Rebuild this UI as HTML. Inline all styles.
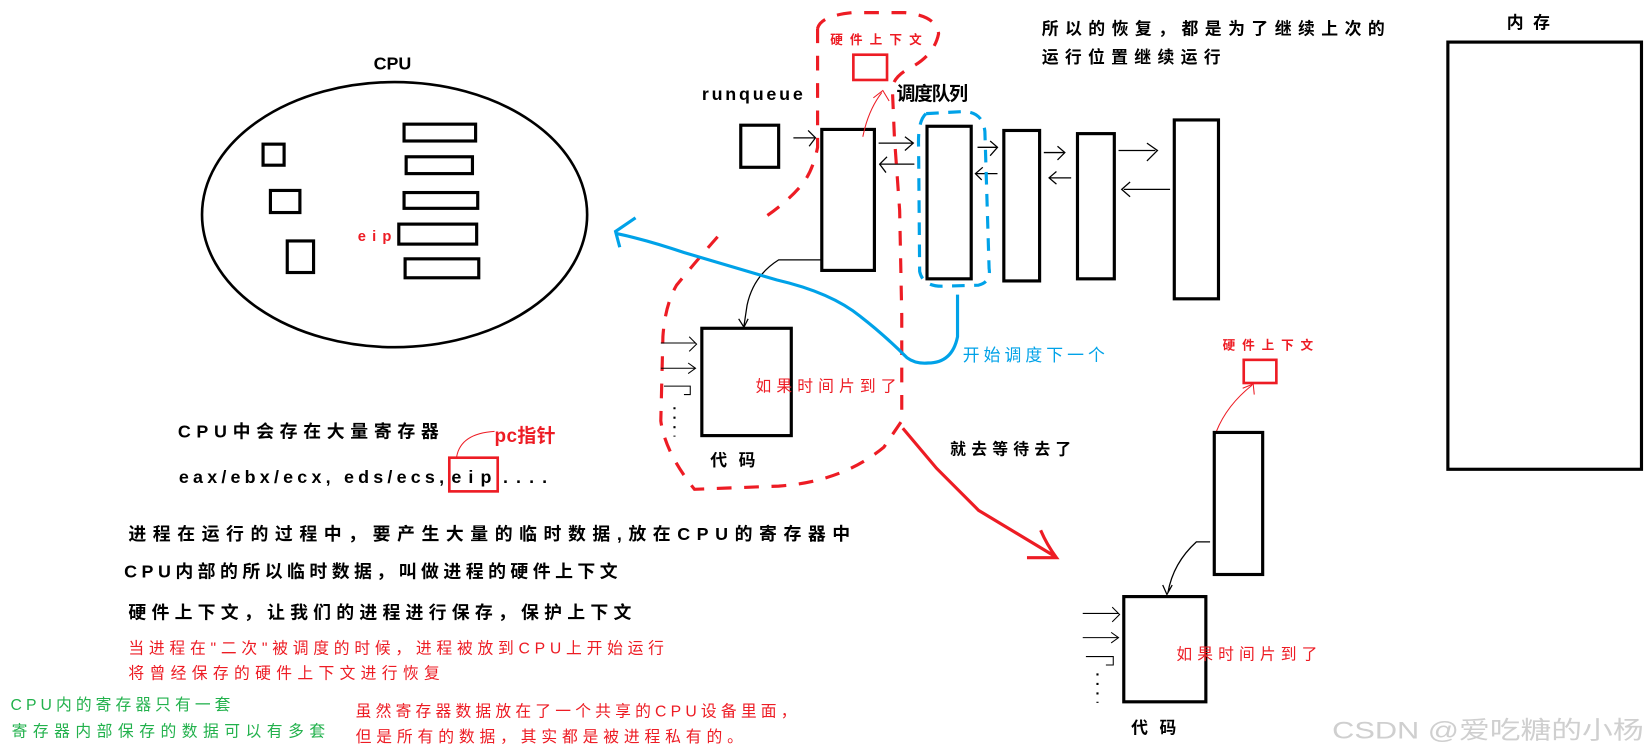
<!DOCTYPE html>
<html><head><meta charset="utf-8"><style>html,body{margin:0;padding:0;background:#fff;overflow:hidden}svg{display:block}
text{font-family:"Liberation Sans","Noto Sans CJK SC",sans-serif;}</style></head><body>
<svg width="1652" height="756" viewBox="0 0 1570 718.5" preserveAspectRatio="none" xmlns="http://www.w3.org/2000/svg">
<rect width="1570" height="718.5" fill="#fff"/>
<text x="373" y="66" font-size="17" font-weight="bold" text-anchor="middle">CPU</text>
<ellipse cx="375" cy="204" rx="183" ry="126" fill="none" stroke="#000" stroke-width="2.5"/>
<g fill="none" stroke="#000" stroke-width="3">
<rect x="250" y="137" width="20" height="20"/><rect x="257" y="181" width="28" height="21"/><rect x="273" y="229" width="25" height="30"/>
<rect x="384" y="118" width="68" height="16"/><rect x="386" y="149" width="63" height="16"/><rect x="384" y="183" width="70" height="15"/><rect x="379" y="213" width="74" height="19"/><rect x="385" y="246" width="70" height="18"/>
</g>
<text x="340" y="229" font-size="14" font-weight="bold" fill="#ed1c24" textLength="32" lengthAdjust="spacing">eip</text>
<text x="667" y="95" font-size="17" font-weight="bold" textLength="96" lengthAdjust="spacing">runqueue</text>
<text x="852" y="95" font-size="18" font-weight="bold" textLength="68" lengthAdjust="spacing">调度队列</text>
<g fill="none" stroke="#000" stroke-width="3">
<rect x="704" y="119" width="36" height="40"/>
<rect x="781" y="123" width="50" height="134"/>
<rect x="881" y="120" width="42" height="145"/>
<rect x="954" y="124" width="34" height="143"/>
<rect x="1024" y="127" width="35" height="138"/>
<rect x="1116" y="114" width="42" height="170"/>
</g>
<g fill="none" stroke="#000" stroke-width="1.2">
<path d="M754 131 H774 M768 124 L775 131 L769 139"/>
<path d="M835 136 H867 M860 130 L868 136 L860 143"/>
<path d="M869 156 H837 M843 149 L836 156 L842 164"/>
<path d="M929 140 H947 M941 134 L948 140 L941 148"/>
<path d="M948 165 H928 M934 159 L927 165 L933 171"/>
<path d="M992 145 H1011 M1005 139 L1012 145 L1005 152"/>
<path d="M1018 169 H998 M1004 163 L997 169 L1004 175"/>
<path d="M1063 143 H1098 M1090 136 L1100 143 L1090 153"/>
<path d="M1112 180 H1068 M1074 173 L1066 180 L1074 187"/>
<path d="M780 247 H740 Q716 262 710 290 L707 310 M702 303 L707 311 L711 303"/>
<path d="M1150 515 H1137 Q1115 535 1110 563 M1105 556 L1109 565 L1114 556"/>
</g>
<text x="789" y="42" font-size="12" font-weight="bold" fill="#ed1c24" textLength="87" lengthAdjust="spacing">硬件上下文</text>
<rect x="811" y="52" width="32" height="24" fill="none" stroke="#ed1c24" stroke-width="2.5"/>
<path d="M820 130 Q825 105 838 88 M830 93 L839 86 L845 96" fill="none" stroke="#ed1c24" stroke-width="1"/>
<path d="M777 27 L777 140 Q772 165 760 178 Q745 195 720 211 M682 225 Q660 250 643 271 Q632 290 630 320 L628 400 Q632 430 660 465 L740 462 Q800 458 840 425 L857 400 L857 300 L855 200 L850 130 L848 83 Q850 72 866 64 Q888 52 892 32 Q890 15 860 12 L810 12 Q780 15 777 27" fill="none" stroke="#ed1c24" stroke-width="3" stroke-dasharray="14,12"/>
<path d="M880 108 Q872 115 873 140 L874 258 Q877 272 895 272 L930 271 Q942 268 940 255 L938 190 L936 125 Q934 106 915 106 Z" fill="none" stroke="#00a2e8" stroke-width="3" stroke-dasharray="12,9"/>
<path d="M910 280 L910 320 Q905 345 882 345 Q870 346 862 340 Q840 318 818 301 Q790 278 738 266 Q690 252 650 240 Q615 228 586 222 M604 207 L585 220 L589 235" fill="none" stroke="#00a2e8" stroke-width="3"/>
<text x="915" y="343" font-size="16" fill="#00a2e8" textLength="135" lengthAdjust="spacing">开始调度下一个</text>
<rect x="667" y="312" width="85" height="102" fill="none" stroke="#000" stroke-width="3"/>
<g fill="none" stroke="#000" stroke-width="1">
<path d="M628 326 H661 M655 320 L662 327 L655 334"/>
<path d="M628 350 H660 M654 345 L661 350 L654 355"/>
<path d="M631 367 H656 L656 375 H650"/>
</g>
<path d="M641 387 V415" stroke="#000" stroke-width="2" stroke-dasharray="2,7"/>
<text x="718" y="372" font-size="15" fill="#ed1c24" textLength="134" lengthAdjust="spacing">如果时间片到了</text>
<text x="675" y="443" font-size="16" font-weight="bold" textLength="43" lengthAdjust="spacing">代码</text>
<path d="M858 407 L890 445 L930 485 L1003 529 M989 504 Q995 518 1004 530 H976" fill="none" stroke="#ed1c24" stroke-width="3"/>
<text x="903" y="432" font-size="15" font-weight="bold" textLength="115" lengthAdjust="spacing">就去等待去了</text>
<text x="1162" y="332" font-size="12" font-weight="bold" fill="#ed1c24" textLength="86" lengthAdjust="spacing">硬件上下文</text>
<rect x="1182" y="342" width="31" height="22" fill="none" stroke="#ed1c24" stroke-width="2.5"/>
<path d="M1156 410 Q1166 385 1190 366 M1181 369 L1191 365 L1192 375" fill="none" stroke="#ed1c24" stroke-width="1"/>
<rect x="1154" y="411" width="46" height="135" fill="none" stroke="#000" stroke-width="3"/>
<rect x="1068" y="567" width="78" height="100" fill="none" stroke="#000" stroke-width="3"/>
<g fill="none" stroke="#000" stroke-width="1">
<path d="M1029 583 H1063 M1057 577 L1064 584 L1057 591"/>
<path d="M1029 606 H1062 M1056 601 L1063 606 L1056 611"/>
<path d="M1032 624 H1058 L1058 632 H1051"/>
</g>
<path d="M1043 640 V668" stroke="#000" stroke-width="2" stroke-dasharray="2,7"/>
<text x="1118" y="627" font-size="15" fill="#ed1c24" textLength="134" lengthAdjust="spacing">如果时间片到了</text>
<text x="1075" y="697" font-size="16" font-weight="bold" textLength="43" lengthAdjust="spacing">代码</text>
<text x="990" y="33" font-size="16" font-weight="bold" textLength="326" lengthAdjust="spacing">所以的恢复，都是为了继续上次的</text>
<text x="990" y="60" font-size="16" font-weight="bold" textLength="170" lengthAdjust="spacing">运行位置继续运行</text>
<text x="1432" y="27" font-size="16" font-weight="bold" textLength="41" lengthAdjust="spacing">内存</text>
<rect x="1376" y="40" width="184" height="406" fill="none" stroke="#000" stroke-width="3"/>
<text x="169" y="416" font-size="17" font-weight="bold" textLength="248" lengthAdjust="spacing">CPU中会存在大量寄存器</text>
<text x="470" y="420" font-size="18" font-weight="bold" fill="#ed1c24" textLength="58" lengthAdjust="spacing">pc指针</text>
<path d="M434 434 Q438 412 470 410" fill="none" stroke="#ed1c24" stroke-width="1"/>
<text x="170" y="459" font-size="17" font-weight="bold" textLength="252" lengthAdjust="spacing">eax/ebx/ecx, eds/ecs,</text>
<text x="429" y="459" font-size="17" font-weight="bold" textLength="38" lengthAdjust="spacing">eip</text>
<text x="478" y="459" font-size="17" font-weight="bold" textLength="42" lengthAdjust="spacing">....</text>
<rect x="427" y="435" width="46" height="32" fill="none" stroke="#ed1c24" stroke-width="2.5"/>
<text x="122" y="513" font-size="17" font-weight="bold" textLength="686" lengthAdjust="spacing">进程在运行的过程中，要产生大量的临时数据,放在CPU的寄存器中</text>
<text x="118" y="549" font-size="17" font-weight="bold" textLength="469" lengthAdjust="spacing">CPU内部的所以临时数据，叫做进程的硬件上下文</text>
<text x="122" y="588" font-size="17" font-weight="bold" textLength="478" lengthAdjust="spacing">硬件上下文，让我们的进程进行保存，保护上下文</text>
<text x="122" y="621" font-size="15" fill="#ed1c24" textLength="509" lengthAdjust="spacing">当进程在"二次"被调度的时候，进程被放到CPU上开始运行</text>
<text x="122" y="645" font-size="15" fill="#ed1c24" textLength="296" lengthAdjust="spacing">将曾经保存的硬件上下文进行恢复</text>
<text x="10" y="675" font-size="15" fill="#22b14c" textLength="209" lengthAdjust="spacing">CPU内的寄存器只有一套</text>
<text x="11" y="700" font-size="15" fill="#22b14c" textLength="298" lengthAdjust="spacing">寄存器内部保存的数据可以有多套</text>
<text x="338" y="681" font-size="15" fill="#ed1c24" textLength="419" lengthAdjust="spacing">虽然寄存器数据放在了一个共享的CPU设备里面，</text>
<text x="338" y="705" font-size="15" fill="#ed1c24" textLength="368" lengthAdjust="spacing">但是所有的数据，其实都是被进程私有的。</text>
<text x="1266" y="702" font-size="23" fill="#cfcfcf" textLength="296" lengthAdjust="spacingAndGlyphs">CSDN @爱吃糖的小杨</text>
</svg>
</body></html>
